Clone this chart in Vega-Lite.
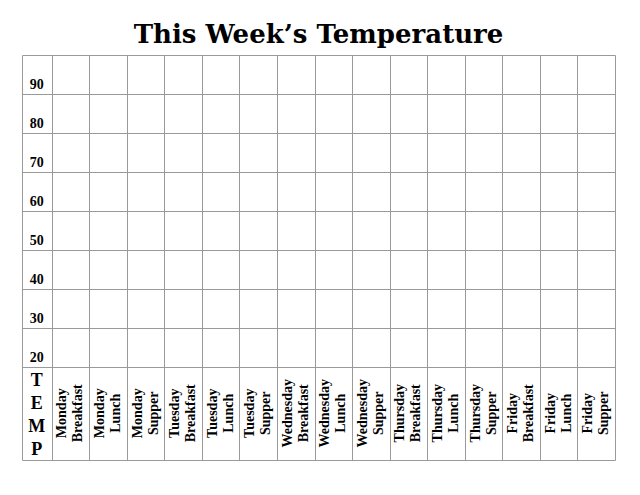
{
  "$schema": "https://vega.github.io/schema/vega-lite/v6.json",
  "width": 593,
  "height": 405,
  "autosize": {"type": "none"},
  "padding": {"left": 22, "top": 55, "right": 25, "bottom": 35},
  "background": "white",
  "title": {
    "text": "This Week’s Temperature",
    "font": "DejaVu Serif",
    "fontSize": 26,
    "fontWeight": "bold",
    "color": "black",
    "anchor": "middle",
    "baseline": "alphabetic",
    "offset": -13.5
  },
  "datasets": {
    "meals": [
      {"col": 1, "label": "Monday\nBreakfast"},
      {"col": 2, "label": "Monday\nLunch"},
      {"col": 3, "label": "Monday\nSupper"},
      {"col": 4, "label": "Tuesday\nBreakfast"},
      {"col": 5, "label": "Tuesday\nLunch"},
      {"col": 6, "label": "Tuesday\nSupper"},
      {"col": 7, "label": "Wednesday\nBreakfast"},
      {"col": 8, "label": "Wednesday\nLunch"},
      {"col": 9, "label": "Wednesday\nSupper"},
      {"col": 10, "label": "Thursday\nBreakfast"},
      {"col": 11, "label": "Thursday\nLunch"},
      {"col": 12, "label": "Thursday\nSupper"},
      {"col": 13, "label": "Friday\nBreakfast"},
      {"col": 14, "label": "Friday\nLunch"},
      {"col": 15, "label": "Friday\nSupper"}
    ],
    "temps": [
      {"temp": 20}, {"temp": 30}, {"temp": 40}, {"temp": 50},
      {"temp": 60}, {"temp": 70}, {"temp": 80}, {"temp": 90}
    ],
    "side": [{"label": "T\nE\nM\nP"}]
  },
  "config": {
    "view": {"stroke": "#9a9a9a", "strokeWidth": 1},
    "axis": {
      "labels": false,
      "ticks": false,
      "domain": false,
      "grid": true,
      "gridColor": "#9a9a9a",
      "gridOpacity": 1,
      "gridWidth": 1
    }
  },
  "layer": [
    {
      "data": {"name": "meals"},
      "mark": {
        "type": "text",
        "angle": 270,
        "font": "Liberation Serif",
        "fontSize": 14,
        "fontWeight": "bold",
        "lineBreak": "\n",
        "lineHeight": 16,
        "align": "center",
        "baseline": "middle",
        "dy": -8,
        "color": "black"
      },
      "encoding": {
        "x": {
          "field": "col",
          "type": "quantitative",
          "scale": {"domain": [-0.29, 15.5], "nice": false, "zero": false},
          "axis": {"title": null, "values": [0.5, 1.5, 2.5, 3.5, 4.5, 5.5, 6.5, 7.5, 8.5, 9.5, 10.5, 11.5, 12.5, 13.5, 14.5]}
        },
        "y": {
          "datum": 8,
          "type": "quantitative",
          "scale": {"domain": [-4, 100], "nice": false, "zero": false},
          "axis": {"title": null, "values": [20, 30, 40, 50, 60, 70, 80, 90]}
        },
        "text": {"field": "label", "type": "nominal"}
      }
    },
    {
      "data": {"name": "temps"},
      "mark": {
        "type": "text",
        "font": "Liberation Serif",
        "fontSize": 14,
        "fontWeight": "bold",
        "align": "center",
        "baseline": "alphabetic",
        "dy": -5,
        "color": "black"
      },
      "encoding": {
        "x": {"datum": 0.105, "type": "quantitative"},
        "y": {"field": "temp", "type": "quantitative"},
        "text": {"field": "temp", "type": "nominal"}
      }
    },
    {
      "data": {"name": "side"},
      "mark": {
        "type": "text",
        "font": "Liberation Serif",
        "fontSize": 18,
        "fontWeight": "bold",
        "lineBreak": "\n",
        "lineHeight": 23,
        "align": "center",
        "baseline": "middle",
        "dy": -31,
        "color": "black"
      },
      "encoding": {
        "x": {"datum": 0.105, "type": "quantitative"},
        "y": {"datum": 8.3, "type": "quantitative"},
        "text": {"field": "label", "type": "nominal"}
      }
    }
  ]
}
